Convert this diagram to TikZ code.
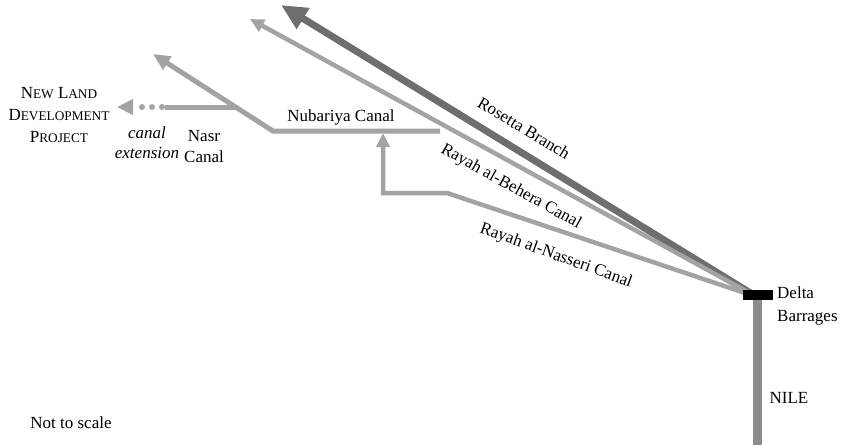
\documentclass[tikz,border=0pt]{standalone}
\usepackage{fontspec}
\setmainfont{Liberation Serif}
\usetikzlibrary{arrows.meta}
\definecolor{darkriver}{HTML}{6E6E6E}
\definecolor{canal}{HTML}{A3A3A3}
\definecolor{nile}{HTML}{8C8C8C}
\newcommand\fsc[1]{{\fontsize{13.3}{15}\selectfont #1}}
\begin{document}
\begin{tikzpicture}[x=1pt,y=-1pt,
  lbl/.style={font=\fontsize{17}{21}\selectfont, inner sep=0pt, align=center},
  canalline/.style={draw=canal, line width=4.5pt},
  tipsmall/.style={-{Triangle[length=14pt,width=13pt]}},
]
\useasboundingbox (0,0) rectangle (844,445);
% coordinates
\coordinate (delta) at (757,297);
\coordinate (nilebot) at (757,445);
\coordinate (rosettatip) at (281,5);
\coordinate (beheratip) at (250,19);
\coordinate (nassbend) at (447,193);
\coordinate (nasscorner) at (383,193);
\coordinate (nasstip) at (383,133);
\coordinate (nubE) at (440,131);
\coordinate (nubW) at (273,131);
\coordinate (nubtip) at (153,54);
\coordinate (nasrE) at (236,107);
\coordinate (nasrW) at (165,107);
\coordinate (extS) at (133,107);
\coordinate (exttip) at (117,107);
% Nile
\draw[draw=nile, line width=9pt] (delta) -- (nilebot);
% Rosetta
\draw[draw=darkriver, line width=7pt, -{Triangle[length=26pt,width=23pt]}] (delta) -- (rosettatip);
% Behera
\draw[canalline, line width=4.5pt, tipsmall] (delta) -- (beheratip);
% Nasseri
\draw[canalline, line width=4.5pt, tipsmall] (delta) -- (nassbend) -- (nasscorner) -- (nasstip);
% Nubariya
\draw[canalline, line width=5pt, line join=miter, -{Triangle[length=17pt,width=15pt]}] (nubE) -- (nubW) -- (nubtip);
% Nasr
\draw[canalline, line width=5pt] (nasrE) -- (nasrW);
\fill[canal] (162,107) circle (3pt) (152,107) circle (3pt) (142,107) circle (3pt);
\draw[canalline, line width=5pt, -{Triangle[length=16pt,width=15pt]}] (extS) -- (exttip);
% Barrage
\node[fill=black, minimum width=30pt, minimum height=10pt, inner sep=0pt] (barrage) at (758,295) {};
% Labels
\node[lbl, font=\fontsize{17}{22}\selectfont] (newland) at (59,115) {N\fsc{EW} L\fsc{AND}\\ D\fsc{EVELOPMENT}\\ P\fsc{ROJECT}};
\node[lbl, font=\fontsize{17}{20}\itshape] (ext) at (147,143) {canal\\extension};
\node[lbl, font=\fontsize{17}{21}\selectfont] (nasr) at (204,147) {Nasr\\Canal};
\node[lbl] (nub) at (341,117) {Nubariya Canal};
\node[lbl, rotate=-31] (ros) at (524,128) {Rosetta Branch};
\node[lbl, rotate=-29] (beh) at (511,187) {Rayah al-Behera Canal};
\node[lbl, rotate=-20] (nas) at (556,256) {Rayah al-Nasseri Canal};
\node[lbl, align=left, anchor=west, font=\fontsize{17}{23}\selectfont] (dlabel) at (777,306) {Delta\\Barrages};
\node[lbl] (nile) at (789,398) {NILE};
\node[lbl] (scale) at (71,423) {Not to scale};
\end{tikzpicture}
\end{document}
